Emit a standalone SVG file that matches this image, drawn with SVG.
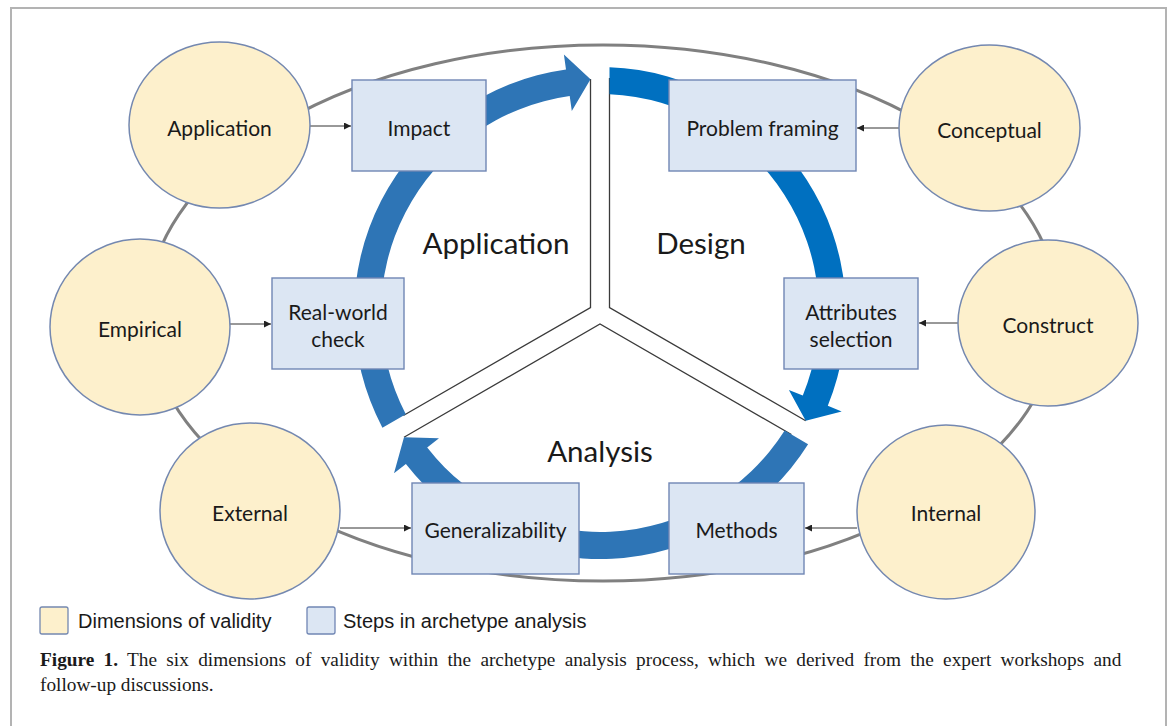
<svg xmlns="http://www.w3.org/2000/svg" width="1171" height="726" viewBox="0 0 1171 726">
<defs>
<style>
.frame{fill:none;stroke:#b3b3b3;stroke-width:2}
.ring{fill:none;stroke:#808080;stroke-width:3}
.dim{fill:#fdf0cc;stroke:#7488b0;stroke-width:1.5}
.step{fill:#dce6f3;stroke:#7086b4;stroke-width:1.4}
.lbl{font-family:Lato,"Open Sans",sans-serif;font-size:21px;fill:#1a1a1a;text-anchor:middle;dominant-baseline:central}
.sec{font-family:Lato,"Open Sans",sans-serif;font-size:29.5px;fill:#1a1a1a;text-anchor:middle;dominant-baseline:central}
.leg{font-family:"Liberation Sans",Arial,sans-serif;font-size:20px;fill:#1a1a1a}
.cap{font-family:"Liberation Serif","Times New Roman",serif;font-size:19.3px;fill:#1a1a1a}
.link{fill:none;stroke:#333;stroke-width:1}
.div{fill:none;stroke:#3a3a3a;stroke-width:1.3}
</style>
<marker id="ah" viewBox="0 0 10 10" refX="10" refY="5" markerWidth="7" markerHeight="7" markerUnits="userSpaceOnUse" orient="auto">
<path d="M0,0 L10,5 L0,10 Z" fill="#222"/>
</marker>
</defs>
<rect width="1171" height="726" fill="#fff"/>
<path class="frame" d="M11,726 V8 H1166 V726"/>
<ellipse class="ring" cx="603" cy="313" rx="456" ry="268"/>
<g id="connectors">
<path class="div" d="M590.5,79 V307.5 L403.4,415.5"/>
<path class="div" d="M609.5,78 V307.5 L805.7,420.8"/>
<path class="div" d="M404,437.2 L600,324 L791.4,434.5"/>
<path id="arc-application" fill="#2e75b6" d="M405.8,414.2 L382.4,427.7 A246,246 0 0 1 566,69.4 L563.9,54.5 L590.5,79.2 L571.8,111 L569.7,96.1 A219,219 0 0 0 405.8,414.2 Z"/>
<path id="arc-design" fill="#0070c0" d="M609.5,94.2 L609.5,67.2 A246,246 0 0 1 827.8,405.7 L841.7,411.4 L805.7,420.8 L788.9,389.9 L802.8,395.6 A219,219 0 0 0 609.5,94.2 Z"/>
<path id="arc-analysis" fill="#2e75b6" d="M784.7,430.6 L808.1,444.2 A246,246 0 0 1 405.9,464.1 L394,473.3 L404,437.2 L439,438.3 L427.2,447.5 A219,219 0 0 0 784.7,430.6 Z"/>
<line class="link" x1="310" y1="126" x2="351" y2="126" marker-end="url(#ah)"/>
<line class="link" x1="899" y1="128" x2="857" y2="128" marker-end="url(#ah)"/>
<line class="link" x1="230" y1="324" x2="271" y2="324" marker-end="url(#ah)"/>
<line class="link" x1="958" y1="323" x2="919" y2="323" marker-end="url(#ah)"/>
<line class="link" x1="340" y1="528" x2="411" y2="528" marker-end="url(#ah)"/>
<line class="link" x1="857" y1="528" x2="805" y2="528" marker-end="url(#ah)"/>
</g>
<text class="sec" x="496" y="242">Application</text>
<text class="sec" x="701" y="242">Design</text>
<text class="sec" x="600" y="450">Analysis</text>
<g id="dim-application"><ellipse class="dim" cx="219.5" cy="125" rx="90.5" ry="83"/><text class="lbl" x="219.5" y="127">Application</text></g>
<g id="dim-empirical"><ellipse class="dim" cx="140" cy="327" rx="90" ry="88"/><text class="lbl" x="140" y="328">Empirical</text></g>
<g id="dim-external"><ellipse class="dim" cx="250" cy="511" rx="90" ry="88"/><text class="lbl" x="250" y="512">External</text></g>
<g id="dim-conceptual"><ellipse class="dim" cx="989.5" cy="128" rx="90.5" ry="83"/><text class="lbl" x="989.5" y="129">Conceptual</text></g>
<g id="dim-construct"><ellipse class="dim" cx="1048" cy="323" rx="90" ry="83"/><text class="lbl" x="1048" y="324">Construct</text></g>
<g id="dim-internal"><ellipse class="dim" cx="946" cy="512" rx="89" ry="87"/><text class="lbl" x="946" y="512">Internal</text></g>
<g id="step-impact"><rect class="step" x="352" y="80" width="134" height="91"/><text class="lbl" x="419" y="127">Impact</text></g>
<g id="step-problem"><rect class="step" x="669" y="80" width="187" height="91"/><text class="lbl" x="762.5" y="127">Problem framing</text></g>
<g id="step-realworld"><rect class="step" x="272" y="278" width="132" height="91"/><text class="lbl" x="338" y="311">Real-world</text><text class="lbl" x="338" y="338">check</text></g>
<g id="step-attributes"><rect class="step" x="784" y="278" width="134" height="91"/><text class="lbl" x="851" y="311">Attributes</text><text class="lbl" x="851" y="338">selection</text></g>
<g id="step-general"><rect class="step" x="412" y="483" width="167" height="91"/><text class="lbl" x="495.5" y="529">Generalizability</text></g>
<g id="step-methods"><rect class="step" x="669" y="483" width="135" height="91"/><text class="lbl" x="736.5" y="529">Methods</text></g>
<g id="legend">
<rect x="40" y="607" width="28" height="27" rx="2" fill="#fdf0cc" stroke="#7488b0" stroke-width="1.3"/>
<text class="leg" x="78" y="628">Dimensions of validity</text>
<rect x="307" y="607" width="28" height="27" rx="2" fill="#dce6f3" stroke="#7086b4" stroke-width="1.3"/>
<text class="leg" x="343" y="628">Steps in archetype analysis</text>
</g>
<text class="cap" x="40" y="666" word-spacing="4.5"><tspan font-weight="bold">Figure 1.</tspan> The six dimensions of validity within the archetype analysis process, which we derived from the expert workshops and</text>
<text class="cap" x="40" y="691">follow-up discussions.</text>
</svg>
